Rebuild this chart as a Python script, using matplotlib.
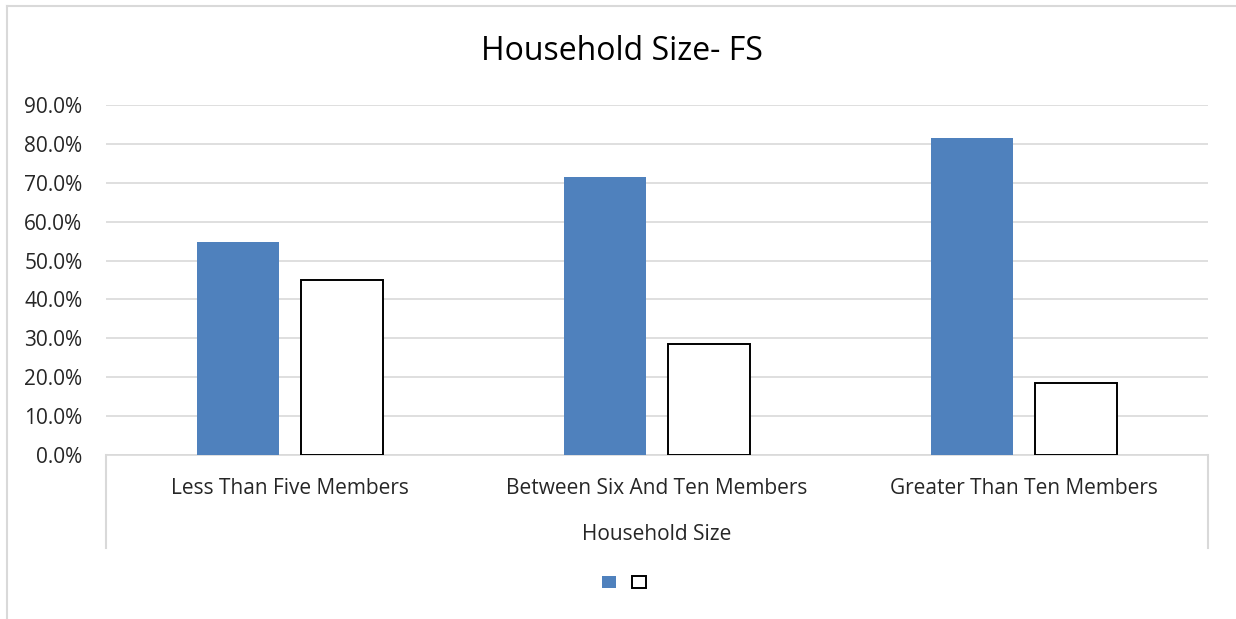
import matplotlib
matplotlib.use("Agg")
import matplotlib.pyplot as plt
from matplotlib.patches import Patch
from matplotlib.lines import Line2D
import numpy as np

categories = ["Less Than Five Members", "Between Six And Ten Members", "Greater Than Ten Members"]
series_a = [54.9, 71.4, 81.6]
series_b = [45.1, 28.6, 18.4]
y_ticks = [0, 10, 20, 30, 40, 50, 60, 70, 80, 90]

plt.rcParams["font.family"] = ["Open Sans", "DejaVu Sans"]

W, H = 1236, 619
fig = plt.figure(figsize=(W / 100, H / 100), dpi=100)

x0, x1 = 106, 1208
y0, y1 = 455, 105
ax = fig.add_axes([x0 / W, (H - y0) / H, (x1 - x0) / W, (y0 - y1) / H])

blue = "#4F81BD"
grid = "#D9D9D9"
text_color = "#262626"
label_size = 15

x = np.arange(len(categories))
bw = 0.223
gap = 0.06
ax.bar(x - (bw + gap) / 2, series_a, width=bw, color=blue, edgecolor="none", zorder=3)
ax.bar(x + (bw + gap) / 2, series_b, width=bw, color="white", edgecolor="black",
       linewidth=1.4, zorder=3)

ax.set_xlim(-0.5, len(categories) - 0.5)
ax.set_ylim(0, 90)
ax.set_yticks(y_ticks)
ax.set_yticklabels([f"{v:.1f}%" for v in y_ticks], fontsize=label_size, color=text_color)
ax.tick_params(axis="y", length=0, pad=17)
ax.set_xticks([])
ax.yaxis.grid(True, color=grid, linewidth=1.2, zorder=0)
for s in ["top", "right", "left"]:
    ax.spines[s].set_visible(False)
ax.spines["bottom"].set_color(grid)
ax.spines["bottom"].set_linewidth(1.2)

# category labels and axis title below the plot
for i, c in enumerate(categories):
    ax.text(i, -(488 - 455) / 350, c, ha="center", va="center", fontsize=label_size,
            color=text_color, transform=ax.get_xaxis_transform(), clip_on=False)
ax.text(0.5, -(535 - 455) / 350, "Household Size", transform=ax.transAxes,
        ha="center", va="center", fontsize=label_size, color=text_color)

# outer vertical boundaries of the category axis
depth = (548 - 455) / 350
for xa in (0, 1):
    ax.add_line(Line2D([xa, xa], [0, -depth], transform=ax.transAxes,
                       color=grid, linewidth=1.5, clip_on=False))

fig.text(622 / W, (H - 52) / H, "Household Size- FS", ha="center", va="center",
         fontsize=23, color="#000000")

# chart frame (left and top edges)
fig.add_artist(Line2D([7 / W, 7 / W], [0, (H - 6) / H], transform=fig.transFigure,
                      color=grid, linewidth=1.5))
fig.add_artist(Line2D([7 / W, 1], [(H - 6) / H, (H - 6) / H], transform=fig.transFigure,
                      color=grid, linewidth=1.5))

handles = [Patch(facecolor=blue, edgecolor="none"),
           Patch(facecolor="white", edgecolor="black", linewidth=1.4)]
fig.legend(handles, ["", ""], loc="center", bbox_to_anchor=(624 / W, (H - 583) / H),
           ncol=2, frameon=False, fontsize=10, handlelength=1.0, handleheight=1.0,
           handletextpad=0.0, columnspacing=1.1, borderpad=0)

fig.savefig("out.png", dpi=100, facecolor="white")
